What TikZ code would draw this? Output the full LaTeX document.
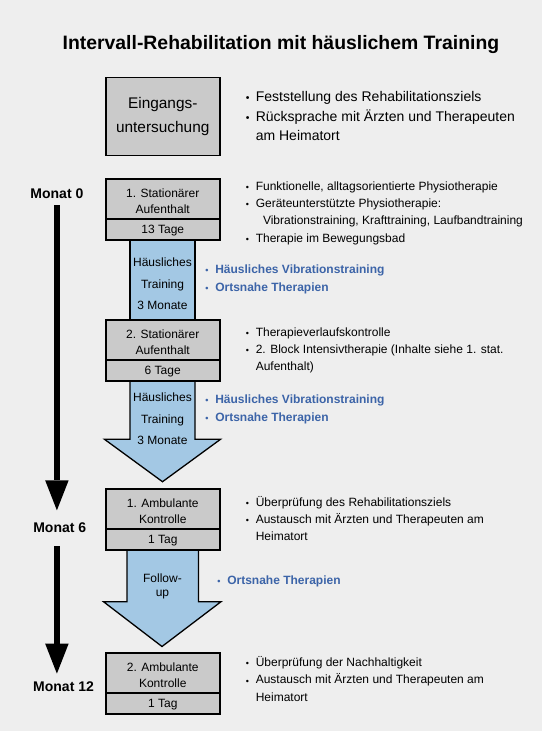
\documentclass[tikz,border=0pt]{standalone}
\usepackage{fontspec}
\usepackage{graphicx}
\setmainfont{Liberation Sans}
\usetikzlibrary{arrows.meta}
\definecolor{bgc}{HTML}{EEEEEE}
\definecolor{boxg}{HTML}{CACACA}
\definecolor{bluef}{HTML}{A3C8E4}
\definecolor{bluet}{HTML}{3C64A8}
\newcommand{\ctb}[1]{\parbox[t]{150pt}{\centering #1}}
\newcommand{\ltb}[1]{\parbox[t]{300pt}{\raggedright #1}}
\newcommand{\bul}{\makebox[10.3pt][l]{\hspace{0.4pt}\raisebox{-0.02em}{\scalebox{0.75}{•}}}}
\newcommand{\ind}{\hspace*{10.3pt}}
\begin{document}
\begin{tikzpicture}[x=1pt,y=-1pt,
  every node/.style={inner sep=0pt, outer sep=0pt},
  gbox/.style={draw=black, line width=1.6pt, fill=boxg, minimum width=114pt, anchor=north},
  barrow/.style={draw=black, line width=1.3pt, fill=bluef, line join=miter},
  boxtxt/.style={font=\fontsize{12}{16.8}\selectfont, anchor=base},
  arrtxt/.style={font=\fontsize{12}{21.5}\selectfont, anchor=base},
  list/.style={font=\fontsize{12}{17.4}\selectfont, anchor=base west},
  blist/.style={font=\bfseries\fontsize{12}{18}\selectfont, text=bluet, anchor=base west},
  month/.style={font=\bfseries\fontsize{14}{16}\selectfont},
  blk/.style={draw=black, line width=6pt, -{Triangle[width=23.5pt,length=30pt,line width=0pt]}}]
\useasboundingbox (0,0) rectangle (542,731);
\fill[bgc] (0,0) rectangle (542,731);

% title
\node[font=\bfseries\fontsize{19.4}{23}\selectfont, anchor=base] (title) at (280.9,49.5) {Intervall-Rehabilitation mit häuslichem Training};

% blue shapes
\node[barrow, minimum width=65pt, minimum height=80pt, anchor=north] (h1) at (162.5,240) {};
\draw[barrow] (130,381) -- (130,439.3) -- (104.5,439.3) -- (162.5,481.7) -- (220.5,439.3) -- (195,439.3) -- (195,381) -- cycle;
\draw[barrow] (127,550) -- (127,601.7) -- (103.5,601.7) -- (162,646.5) -- (221,601.7) -- (198.5,601.7) -- (198.5,550) -- cycle;

% gray boxes
\node[gbox, minimum height=78pt] (eu) at (162.75,77.5) {};
\node[gbox, minimum height=40pt] (s1) at (162.75,179) {};
\node[gbox, minimum height=21pt] (s1d) at (162.75,219) {};
\node[gbox, minimum height=40pt] (s2) at (162.75,320) {};
\node[gbox, minimum height=21pt] (s2d) at (162.75,360) {};
\node[gbox, minimum height=40pt] (a1) at (162.75,489) {};
\node[gbox, minimum height=21pt] (a1d) at (162.75,529) {};
\node[gbox, minimum height=40pt] (a2) at (162.75,653) {};
\node[gbox, minimum height=21pt] (a2d) at (162.75,693) {};

% box texts
\node[font=\fontsize{15.4}{24}\selectfont, anchor=base] (eut) at (162.75,108) {\ctb{Eingangs-\\untersuchung}};
\node[boxtxt] (s1t) at (162.75,197) {\ctb{1. Stationärer\\Aufenthalt}};
\node[boxtxt] (s1dt) at (162.75,233.8) {13 Tage};
\node[boxtxt] (s2t) at (162.75,338) {\ctb{2. Stationärer\\Aufenthalt}};
\node[boxtxt] (s2dt) at (162.75,374.8) {6 Tage};
\node[boxtxt] (a1t) at (162.75,507) {\ctb{1. Ambulante\\Kontrolle}};
\node[boxtxt] (a1dt) at (162.75,543.8) {1 Tag};
\node[boxtxt] (a2t) at (162.75,671) {\ctb{2. Ambulante\\Kontrolle}};
\node[boxtxt] (a2dt) at (162.75,707.8) {1 Tag};

% blue arrow texts
\node[arrtxt] (h1t) at (162.5,266.5) {\ctb{Häusliches\\Training\\3 Monate}};
\node[arrtxt] (h2t) at (162.5,401.5) {\ctb{Häusliches\\Training\\3 Monate}};
\node[boxtxt, font=\fontsize{12}{13.5}\selectfont] (h3t) at (162.5,582.5) {\ctb{Follow-\\up}};

% blue lists
\node[blist] (bl1) at (205,273.5) {\ltb{\bul Häusliches Vibrationstraining\\\bul Ortsnahe Therapien}};
\node[blist] (bl2) at (205,403.5) {\ltb{\bul Häusliches Vibrationstraining\\\bul Ortsnahe Therapien}};
\node[blist] (bl3) at (217,584) {\bul Ortsnahe Therapien};

% right lists
\node[list, font=\fontsize{14}{19.7}\selectfont] (r0) at (245.5,101.5) {\ltb{\bul Feststellung des Rehabilitationsziels\\\bul Rücksprache mit Ärzten und Therapeuten\\\ind am Heimatort}};
\node[list] (r1) at (245.5,190) {\ltb{\bul Funktionelle, alltagsorientierte Physiotherapie\\\bul Geräteunterstützte Physiotherapie:\\\hspace*{17.5pt}Vibrationstraining, Krafttraining, Laufbandtraining\\\bul Therapie im Bewegungsbad}};
\node[list] (r2) at (245.5,336) {\ltb{\bul Therapieverlaufskontrolle\\\bul 2. Block Intensivtherapie (Inhalte siehe 1. stat.\\\ind Aufenthalt)}};
\node[list] (r3) at (245.5,506) {\ltb{\bul Überprüfung des Rehabilitationsziels\\\bul Austausch mit Ärzten und Therapeuten am\\\ind Heimatort}};
\node[list] (r4) at (245.5,666.5) {\ltb{\bul Überprüfung der Nachhaltigkeit\\\bul Austausch mit Ärzten und Therapeuten am\\\ind Heimatort}};

% months
\node[month, anchor=base] (m0) at (56.9,198.5) {Monat 0};
\node[month, anchor=base west] (m6) at (33.3,532.3) {Monat 6};
\node[month, anchor=base west] (m12) at (33.2,691) {Monat 12};

% time arrows
\draw[blk, shorten <=6.5pt, shorten >=12.2pt] (m0.south) -- (m0.south |- m6.north);
\draw[blk, shorten <=13.7pt, shorten >=7.6pt] (m0.south |- m6.south) -- (m0.south |- m12.north);
\end{tikzpicture}
\end{document}
